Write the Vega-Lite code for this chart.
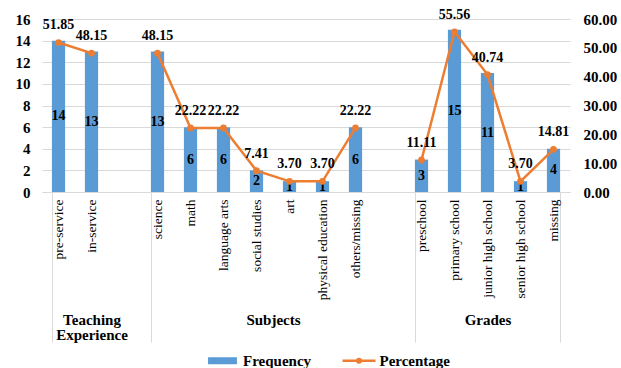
{
  "$schema": "https://vega.github.io/schema/vega-lite/v6.json",
  "padding": {"left": 15, "top": 7, "right": 0, "bottom": 2},
  "background": "white",
  "data": {"values": [
    {"Group": "Teaching Experience", "Category": "pre-service", "Frequency": 14, "Percentage": 51.85},
    {"Group": "Teaching Experience", "Category": "in-service", "Frequency": 13, "Percentage": 48.15},
    {"Group": "Subjects", "Category": "science", "Frequency": 13, "Percentage": 48.15},
    {"Group": "Subjects", "Category": "math", "Frequency": 6, "Percentage": 22.22},
    {"Group": "Subjects", "Category": "language arts", "Frequency": 6, "Percentage": 22.22},
    {"Group": "Subjects", "Category": "social studies", "Frequency": 2, "Percentage": 7.41},
    {"Group": "Subjects", "Category": "art", "Frequency": 1, "Percentage": 3.70},
    {"Group": "Subjects", "Category": "physical education", "Frequency": 1, "Percentage": 3.70},
    {"Group": "Subjects", "Category": "others/missing", "Frequency": 6, "Percentage": 22.22},
    {"Group": "Grades", "Category": "preschool", "Frequency": 3, "Percentage": 11.11},
    {"Group": "Grades", "Category": "primary school", "Frequency": 15, "Percentage": 55.56},
    {"Group": "Grades", "Category": "junior high school", "Frequency": 11, "Percentage": 40.74},
    {"Group": "Grades", "Category": "senior high school", "Frequency": 1, "Percentage": 3.70},
    {"Group": "Grades", "Category": "missing", "Frequency": 4, "Percentage": 14.81}
  ]},
  "spacing": 0,
  "bounds": "flush",
  "hconcat": [
    {
      "transform": [{"filter": "datum.Group == 'Teaching Experience'"}],
      "width": {"step": 33},
      "height": 173,
      "layer": [
        {
          "mark": {"type": "bar"},
          "encoding": {
            "x": {"field": "Category", "type": "nominal", "sort": null,
              "scale": {"domain": ["pre-service", "in-service", " "], "paddingInner": 0.6, "paddingOuter": 0.3},
              "axis": {"title": ["Teaching", "Experience"],
                "tickColor": {"condition": {"test": "datum.extra", "value": "#d9d9d9"}, "value": "transparent"}}},
            "y": {"field": "Frequency", "type": "quantitative", "scale": {"domain": [0, 16], "nice": false},
              "axis": {"orient": "left", "values": [0, 2, 4, 6, 8, 10, 12, 14, 16], "grid": true, "gridColor": "#d9d9d9", "domain": false, "ticks": false, "labelPadding": 12, "labelFontSize": 15, "labelFontWeight": "bold", "labelColor": "black", "title": null}},
            "color": {"datum": "Frequency", "type": "nominal",
              "scale": {"domain": ["Frequency", "Percentage"], "range": ["#5B9BD5", "#ED7D31"]},
              "legend": {"title": null, "orient": "none", "legendX": 169, "legendY": 330, "direction": "horizontal", "symbolSize": 400, "labelFontSize": 15, "labelFontWeight": "bold", "labelColor": "black", "labelOffset": 9, "columnPadding": 25.5,
                "encode": {"symbols": {"update": {
                  "shape": {"signal": "datum.value == 'Frequency' ? 'M-1.32,-0.22H1.32V0.22H-1.32Z' : 'M-1.65,0H1.65M-0.175,0A0.175,0.175,0,1,1,0.175,0A0.175,0.175,0,1,1,-0.175,0Z'"},
                  "fill": {"signal": "datum.value == 'Frequency' ? '#5B9BD5' : '#ED7D31'"},
                  "stroke": {"signal": "datum.value == 'Frequency' ? '#5B9BD5' : '#ED7D31'"},
                  "strokeWidth": {"value": 2.5},
                  "opacity": {"value": 1}}}}}}
          }
        },
        {
          "mark": {"type": "text", "fontWeight": "bold", "fontSize": 14, "baseline": "middle", "color": "black"},
          "encoding": {
            "x": {"field": "Category", "type": "nominal", "sort": null},
            "y": {"field": "Frequency", "type": "quantitative", "scale": {"domain": [0, 32], "nice": false}, "axis": null},
            "text": {"field": "Frequency", "type": "quantitative"}
          }
        },
        {
          "mark": {"type": "line", "strokeWidth": 2.5, "point": {"filled": true, "size": 45}},
          "encoding": {
            "x": {"field": "Category", "type": "nominal", "sort": null},
            "y": {"field": "Percentage", "type": "quantitative", "scale": {"domain": [0, 60], "nice": false}, "axis": null},
            "color": {"datum": "Percentage", "type": "nominal"}
          }
        },
        {
          "mark": {"type": "text", "fontWeight": "bold", "fontSize": 14, "baseline": "middle", "dy": -17, "color": "black"},
          "encoding": {
            "x": {"field": "Category", "type": "nominal", "sort": null},
            "y": {"field": "Percentage", "type": "quantitative", "scale": {"domain": [0, 60], "nice": false}, "axis": null},
            "text": {"field": "Percentage", "type": "quantitative", "format": ".2f"}
          }
        }
      ],
      "resolve": {"scale": {"y": "independent"}}
    },
    {
      "transform": [{"filter": "datum.Group == 'Subjects'"}],
      "width": {"step": 33},
      "height": 173,
      "layer": [
        {
          "mark": {"type": "bar"},
          "encoding": {
            "x": {"field": "Category", "type": "nominal", "sort": null,
              "scale": {"domain": ["science", "math", "language arts", "social studies", "art", "physical education", "others/missing", "  "], "paddingInner": 0.6, "paddingOuter": 0.3},
              "axis": {"title": "Subjects",
                "tickColor": {"condition": {"test": "datum.extra", "value": "#d9d9d9"}, "value": "transparent"}}},
            "y": {"field": "Frequency", "type": "quantitative", "scale": {"domain": [0, 16], "nice": false},
              "axis": {"orient": "left", "values": [0, 2, 4, 6, 8, 10, 12, 14, 16], "grid": true, "gridColor": "#d9d9d9", "domain": false, "ticks": false, "labels": false, "title": null}},
            "color": {"datum": "Frequency", "type": "nominal"}
          }
        },
        {
          "mark": {"type": "text", "fontWeight": "bold", "fontSize": 14, "baseline": "middle", "color": "black"},
          "encoding": {
            "x": {"field": "Category", "type": "nominal", "sort": null},
            "y": {"field": "Frequency", "type": "quantitative", "scale": {"domain": [0, 32], "nice": false}, "axis": null},
            "text": {"field": "Frequency", "type": "quantitative"}
          }
        },
        {
          "mark": {"type": "line", "strokeWidth": 2.5, "point": {"filled": true, "size": 45}},
          "encoding": {
            "x": {"field": "Category", "type": "nominal", "sort": null},
            "y": {"field": "Percentage", "type": "quantitative", "scale": {"domain": [0, 60], "nice": false}, "axis": null},
            "color": {"datum": "Percentage", "type": "nominal"}
          }
        },
        {
          "mark": {"type": "text", "fontWeight": "bold", "fontSize": 14, "baseline": "middle", "dy": -17, "color": "black"},
          "encoding": {
            "x": {"field": "Category", "type": "nominal", "sort": null},
            "y": {"field": "Percentage", "type": "quantitative", "scale": {"domain": [0, 60], "nice": false}, "axis": null},
            "text": {"field": "Percentage", "type": "quantitative", "format": ".2f"}
          }
        }
      ],
      "resolve": {"scale": {"y": "independent"}}
    },
    {
      "transform": [{"filter": "datum.Group == 'Grades'"}],
      "width": {"step": 33},
      "height": 173,
      "layer": [
        {
          "mark": {"type": "bar"},
          "encoding": {
            "x": {"field": "Category", "type": "nominal", "sort": null,
              "scale": {"domain": ["preschool", "primary school", "junior high school", "senior high school", "missing"], "paddingInner": 0.6, "paddingOuter": 0.3},
              "axis": {"title": "Grades",
                "tickColor": {"condition": {"test": "datum.extra || datum.value == 'missing'", "value": "#d9d9d9"}, "value": "transparent"}}},
            "y": {"field": "Frequency", "type": "quantitative", "scale": {"domain": [0, 16], "nice": false},
              "axis": {"orient": "left", "values": [0, 2, 4, 6, 8, 10, 12, 14, 16], "grid": true, "gridColor": "#d9d9d9", "domain": false, "ticks": false, "labels": false, "title": null}},
            "color": {"datum": "Frequency", "type": "nominal"}
          }
        },
        {
          "mark": {"type": "text", "fontWeight": "bold", "fontSize": 14, "baseline": "middle", "color": "black"},
          "encoding": {
            "x": {"field": "Category", "type": "nominal", "sort": null},
            "y": {"field": "Frequency", "type": "quantitative", "scale": {"domain": [0, 32], "nice": false}, "axis": null},
            "text": {"field": "Frequency", "type": "quantitative"}
          }
        },
        {
          "mark": {"type": "line", "strokeWidth": 2.5, "point": {"filled": true, "size": 45}},
          "encoding": {
            "x": {"field": "Category", "type": "nominal", "sort": null},
            "y": {"field": "Percentage", "type": "quantitative", "scale": {"domain": [0, 60], "nice": false},
              "axis": {"orient": "right", "values": [0, 10, 20, 30, 40, 50, 60], "format": ".2f", "grid": false, "domain": false, "ticks": false, "labelPadding": 13, "labelFontSize": 15, "labelFontWeight": "bold", "labelColor": "black", "title": null}},
            "color": {"datum": "Percentage", "type": "nominal"}
          }
        },
        {
          "mark": {"type": "text", "fontWeight": "bold", "fontSize": 14, "baseline": "middle", "dy": -17, "color": "black"},
          "encoding": {
            "x": {"field": "Category", "type": "nominal", "sort": null},
            "y": {"field": "Percentage", "type": "quantitative", "scale": {"domain": [0, 60], "nice": false}, "axis": null},
            "text": {"field": "Percentage", "type": "quantitative", "format": ".2f"}
          }
        }
      ],
      "resolve": {"scale": {"y": "independent"}}
    }
  ],
  "config": {
    "font": "Liberation Serif",
    "view": {"stroke": null},
    "axis": {"labelFont": "Liberation Serif", "titleFont": "Liberation Serif"},
    "axisBottom": {"labelAngle": -90, "labelFontSize": 13.5, "labelColor": "black", "domainColor": "#d9d9d9",
      "tickBand": "extent", "tickSize": 150, "labelPadding": -143,
      "titleY": 120, "titleBaseline": "top", "titleFontSize": 15, "titleFontWeight": "bold", "titleColor": "black", "titleLineHeight": 15},
    "legend": {"labelFont": "Liberation Serif"}
  }
}
